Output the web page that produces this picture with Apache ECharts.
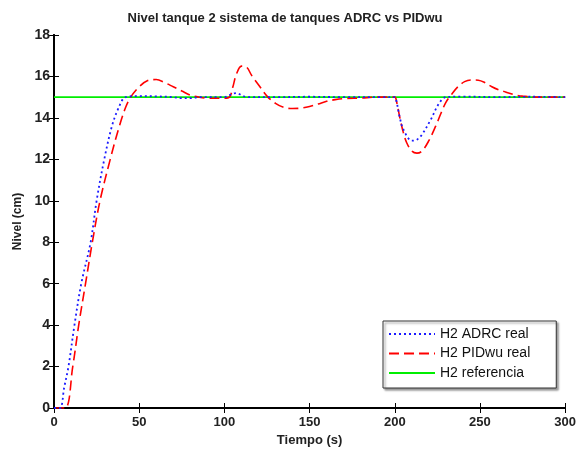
<!DOCTYPE html>
<html>
<head>
<meta charset="utf-8">
<script src="https://cdn.jsdelivr.net/npm/echarts@6/dist/echarts.min.js"></script>
<style>html,body{margin:0;padding:0;background:#fff}#c{width:579px;height:452px}</style>
</head>
<body>
<div id="c"></div>
<script>
// ---- data ----
const titleText = 'Nivel tanque 2 sistema de tanques ADRC vs PIDwu';
const xLabel = 'Tiempo (s)';
const yLabel = 'Nivel (cm)';
const seriesNames = ['H2 ADRC real', 'H2 PIDwu real', 'H2 referencia'];

const adrcT = [0, 3.5, 6, 8.5, 12, 16, 21.5, 25, 29.5, 34, 38, 42, 50, 60, 70, 75, 80, 85, 100, 103, 107, 110, 113, 130, 150, 170, 190, 200, 201, 203, 205, 210, 213, 216, 221, 226, 230, 240, 260, 280, 300];
const adrcV = [0, 0, 1.0, 2.0, 4.0, 6.0, 8.0, 10.0, 12.0, 13.6, 14.5, 15.0, 15.05, 15.04, 15.0, 14.95, 14.95, 15.0, 15.0, 15.1, 15.2, 15.1, 15.0, 15.0, 15.02, 15.0, 15.0, 15.0, 14.8, 14.0, 13.45, 12.9, 12.95, 13.2, 13.9, 14.7, 15.0, 15.03, 15.0, 15.02, 15.0];

const pidT = [0, 6.5, 11, 14.5, 18.5, 22.5, 27, 33, 38, 42, 45, 50, 55, 60, 65, 70, 75, 80, 85, 90, 100, 103, 105, 107, 110, 113, 116, 120, 125, 130, 135, 140, 145, 150, 155, 160, 165, 170, 180, 190, 200, 201, 203, 205, 207, 210, 213, 216, 220, 224, 227, 230, 233, 237, 241, 245, 249, 253, 257, 261, 265, 270, 275, 285, 300];
const pidV = [0, 0, 2.0, 4.0, 6.0, 8.0, 10.0, 12.0, 13.5, 14.5, 15.0, 15.5, 15.8, 15.85, 15.7, 15.5, 15.3, 15.1, 15.0, 14.95, 14.95, 15.0, 15.5, 16.1, 16.5, 16.45, 16.05, 15.6, 15.05, 14.7, 14.5, 14.45, 14.47, 14.55, 14.67, 14.8, 14.88, 14.93, 14.96, 15.0, 15.0, 14.8, 14.0, 13.3, 12.8, 12.4, 12.3, 12.4, 12.9, 13.6, 14.2, 14.75, 15.1, 15.5, 15.75, 15.83, 15.82, 15.7, 15.5, 15.35, 15.25, 15.12, 15.05, 15.0, 15.0];

const refT = [0, 300];
const refV = [15, 15];

const xMin = 0, xMax = 300, xStep = 50;
const yMin = 0, yMax = 18, yStep = 2;

// ---- chart ----
const zip = (t, v) => t.map((x, i) => [x, v[i]]);
const font = 'Liberation Sans, Arial, sans-serif';
const chart = echarts.init(document.getElementById('c'));
const axisCommon = {
  type: 'value',
  axisLine: { show: true, lineStyle: { color: '#000', width: 2 } },
  axisTick: { show: true, inside: true, length: 5, lineStyle: { color: '#000', width: 1 } },
  splitLine: { show: false }
};
chart.setOption({
  animation: false,
  backgroundColor: '#fff',
  title: {
    text: titleText, left: 280, top: 7, textAlign: 'center',
    textStyle: { fontFamily: font, fontSize: 13, fontWeight: 'bold', color: '#222' }
  },
  grid: { left: 54, right: 13, top: 35, bottom: 42, containLabel: false },
  legend: {
    data: seriesNames,
    orient: 'vertical',
    left: 383, top: 321,
    itemWidth: 46, itemHeight: 14, itemGap: 5.5,
    padding: [6, 26, 8, 5],
    backgroundColor: '#fff',
    borderColor: '#333', borderWidth: 1,
    shadowColor: 'rgba(0,0,0,0.4)', shadowOffsetX: 2, shadowOffsetY: 2, shadowBlur: 2,
    itemStyle: { opacity: 0 },
    textStyle: { fontFamily: font, fontSize: 14, color: '#111' }
  },
  xAxis: [
    Object.assign({}, axisCommon, {
      min: xMin, max: xMax, interval: xStep, position: 'bottom',
      name: xLabel, nameLocation: 'middle', nameGap: 26,
      nameTextStyle: { fontFamily: font, fontSize: 13, fontWeight: 'bold', color: '#222' },
      axisLabel: { fontFamily: font, fontSize: 13, fontWeight: 'bold', color: '#222', margin: 8 }
    }),
    Object.assign({}, axisCommon, {
      min: xMin, max: xMax, interval: xStep, position: 'top', axisLabel: { show: false }
    })
  ],
  yAxis: [
    Object.assign({}, axisCommon, {
      min: yMin, max: yMax, interval: yStep, position: 'left',
      name: yLabel, nameLocation: 'middle', nameGap: 30, nameRotate: 90,
      nameTextStyle: { fontFamily: font, fontSize: 12, fontWeight: 'bold', color: '#222' },
      axisLabel: { fontFamily: font, fontSize: 14, fontWeight: 'bold', color: '#222', margin: 4 }
    }),
    Object.assign({}, axisCommon, {
      min: yMin, max: yMax, interval: yStep, position: 'right', axisLabel: { show: false }
    })
  ],
  series: [
    {
      name: seriesNames[2], type: 'line', data: zip(refT, refV), showSymbol: false, symbol: 'none',
      lineStyle: { color: '#00ee00', width: 1.8 }, itemStyle: { color: '#00ee00' }, z: 2
    },
    {
      name: seriesNames[1], type: 'line', data: zip(pidT, pidV), showSymbol: false, symbol: 'none', smooth: 0.35,
      lineStyle: { color: '#ff0000', width: 1.6, type: [10, 5] }, itemStyle: { color: '#ff0000' }, z: 3
    },
    {
      name: seriesNames[0], type: 'line', data: zip(adrcT, adrcV), showSymbol: false, symbol: 'none', smooth: 0.35,
      lineStyle: { color: '#1a1aff', width: 1.8, type: [2, 3] }, itemStyle: { color: '#1a1aff' }, z: 4
    }
  ]
});
</script>
</body>
</html>
